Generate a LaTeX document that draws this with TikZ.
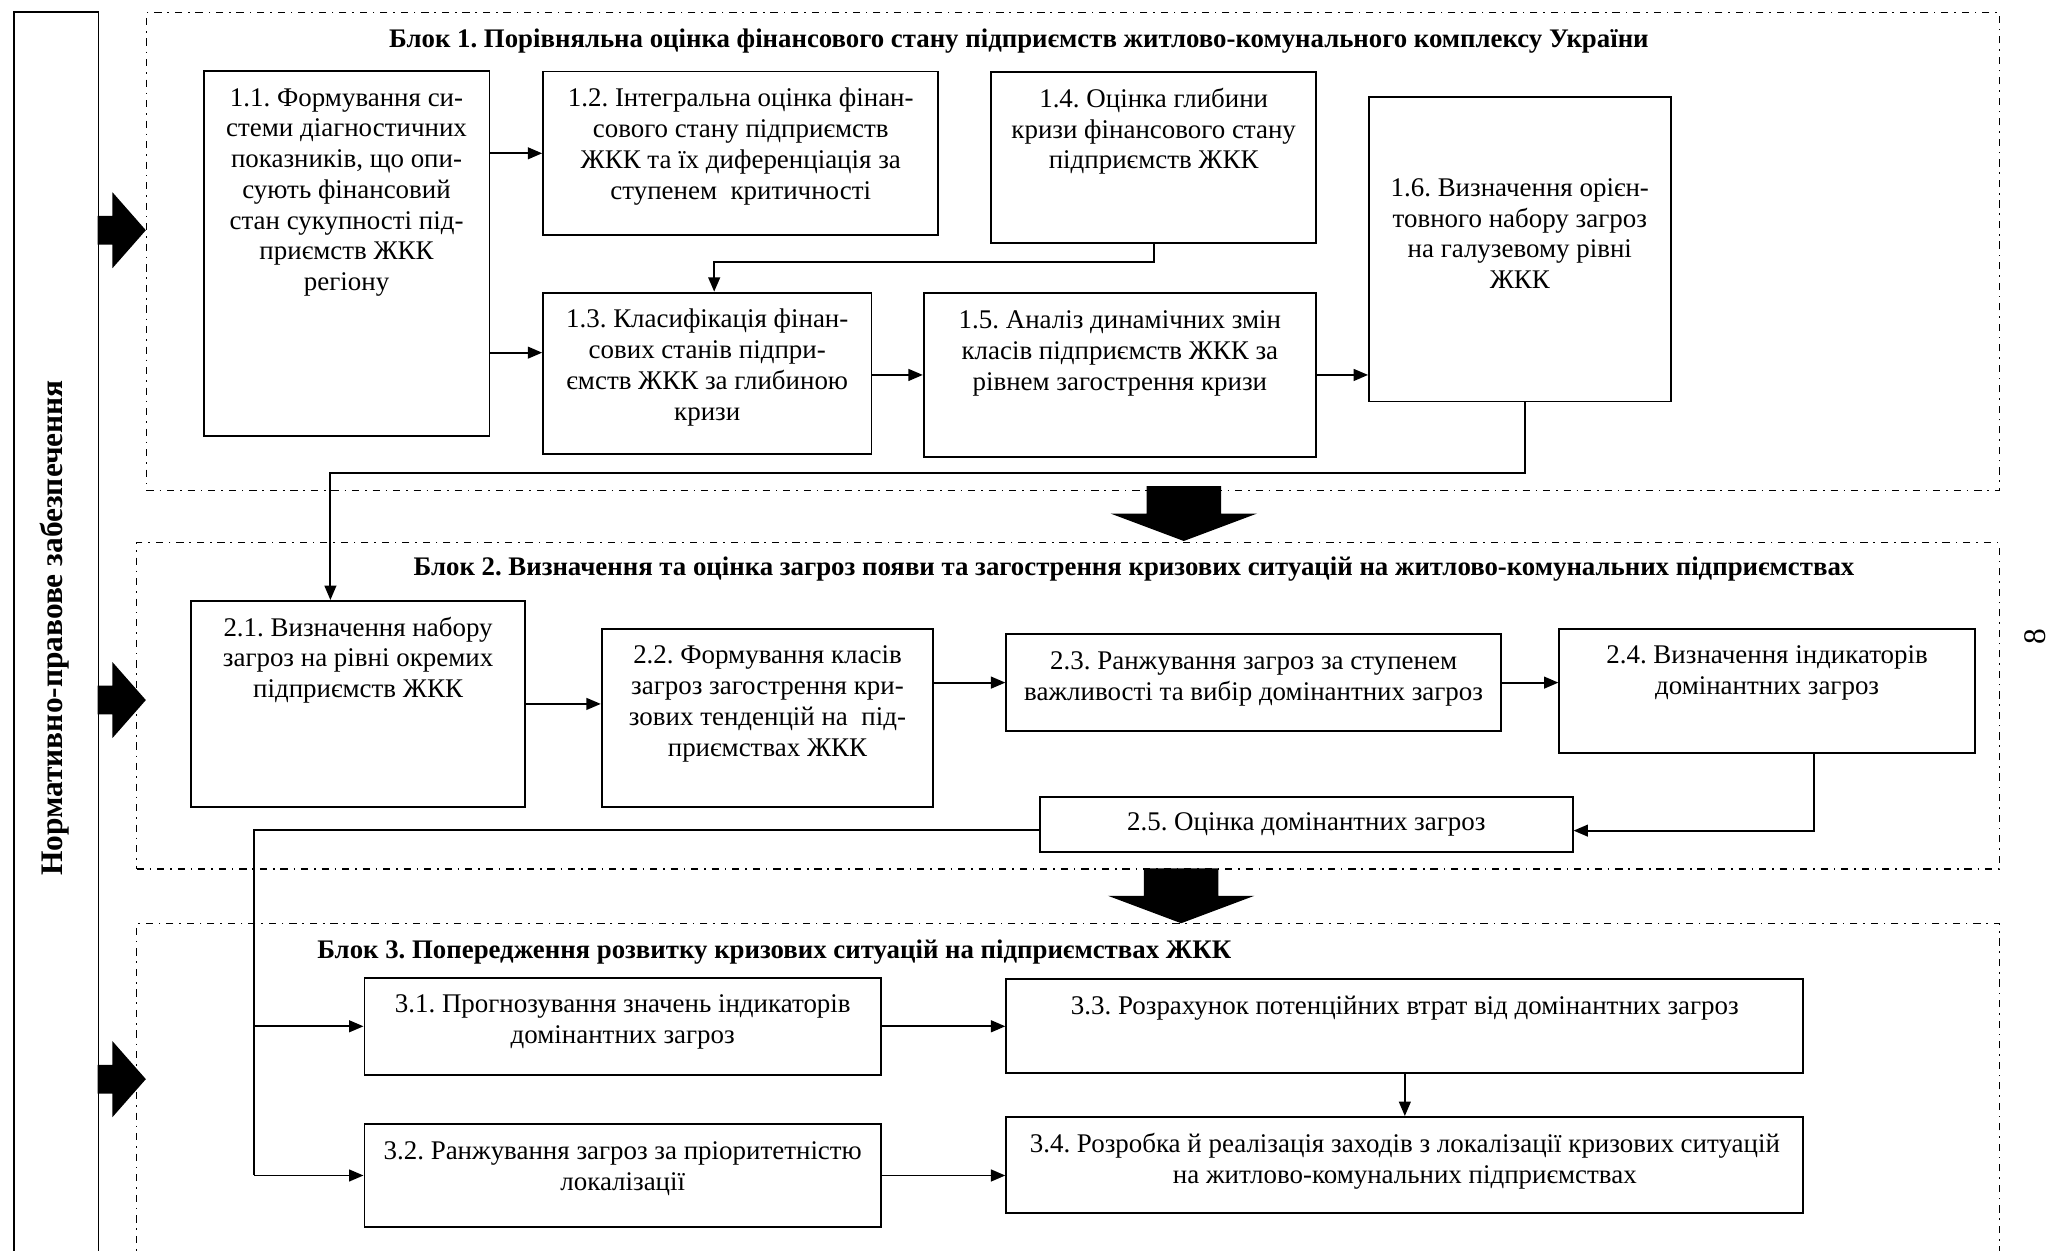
\documentclass[tikz,border=0pt]{standalone}
\usepackage{fontspec}
\setmainfont{Liberation Serif}
\usetikzlibrary{arrows.meta}
\tikzset{
  bx/.style={draw, line width=1.4pt, inner sep=0pt, anchor=north west, font=\fontsize{20.6}{23.5}\selectfont},
  blockframe/.style={draw, line width=1pt, dash pattern=on 5.5pt off 4.5pt on 1.2pt off 4.5pt, inner sep=0pt, anchor=north west},
  ttl/.style={font=\fontsize{20.5}{24}\selectfont\bfseries, anchor=base, inner sep=0pt},
  arr/.style={line width=1.4pt, -{Triangle[length=11pt,width=9pt]}},
  ln/.style={line width=1.4pt},
  big/.style={fill=black},
}
\newcommand\tb[4][27pt]{\parbox[c][#3][t]{#2}{\centering\rule{0pt}{#1}#4\par}}
\newcommand\tbc[3]{\parbox[c][#2][c]{#1}{\centering #3\par}}
\begin{document}
\frenchspacing
\begin{tikzpicture}[x=1pt,y=-1pt]
\useasboundingbox (0,0) rectangle (1568,956);
% left bar
\node[draw, line width=1.4pt, inner sep=0pt, anchor=north west, minimum width=64.8pt, minimum height=1000pt] (lbar) at (9.8,8.4) {};
\node[rotate=90, inner sep=0pt, font=\fontsize{24}{26}\selectfont\bfseries] (nlabel) at (41.5,480) {Нормативно-правове забезпечення};
% block frames
\node[blockframe, minimum width=1416.4pt, minimum height=365.7pt] (blk1) at (111.6,8.9) {};
\node[blockframe, minimum width=1424pt, minimum height=249.3pt] (blk2) at (104,414.5) {};
\node[blockframe, minimum width=1424pt, minimum height=320pt] (blk3) at (104,705.4) {};
% titles
\node[ttl] (t1) at (779,36.2) {Блок 1. Порівняльна оцінка фінансового стану підприємств житлово-комунального комплексу України};
\node[ttl] (t2) at (867,439.6) {Блок 2. Визначення та оцінка загроз появи та загострення кризових ситуацій на житлово-комунальних підприємствах};
\node[ttl] (t3) at (592,732.7) {Блок 3. Попередження розвитку кризових ситуацій на підприємствах ЖКК};
% block 1 boxes
\node[bx] (b11) at (155,53.5) {\tb{218.5pt}{279.1pt}{1.1. Формування си-\\стеми діагностичних\\показників, що опи-\\сують фінансовий\\стан сукупності під-\\приємств ЖКК\\регіону}};
\node[bx] (b12) at (414.5,54) {\tb{302.2pt}{125pt}{1.2. Інтегральна оцінка фінан-\\сового стану підприємств\\ЖКК та їх диференціація за\\ступенем~ критичності}};
\node[bx] (b13) at (414.5,223) {\tb{251pt}{123.6pt}{1.3. Класифікація фінан-\\сових станів підпри-\\ємств ЖКК за глибиною\\кризи}};
\node[bx] (b14) at (757.2,54.3) {\tb{248.2pt}{131pt}{1.4. Оцінка глибини\\кризи фінансового стану\\підприємств ЖКК}};
\node[bx] (b15) at (705.5,223.5) {\tb{299.9pt}{124.9pt}{1.5. Аналіз динамічних змін\\класів підприємств ЖКК за\\рівнем загострення кризи}};
\node[bx] (b16) at (1045.9,73.4) {\tb[76pt]{230.6pt}{232.9pt}{1.6. Визначення орієн-\\товного набору загроз\\на галузевому рівні\\ЖКК}};
% block 2 boxes
\node[bx] (b21) at (145.3,458.7) {\tb{255.5pt}{157.5pt}{2.1. Визначення набору\\загроз на рівні окремих\\підприємств ЖКК}};
\node[bx] (b22) at (459.3,479.9) {\tb{253.5pt}{136.3pt}{2.2. Формування класів\\загроз загострення кри-\\зових тенденцій на~ під-\\приємствах ЖКК}};
\node[bx] (b23) at (768.6,484.2) {\tb{378.2pt}{73.9pt}{2.3. Ранжування загроз за ступенем\\важливості та вибір домінантних загроз}};
\node[bx] (b24) at (1191.4,479.9) {\tb{317.7pt}{94.8pt}{2.4. Визначення індикаторів\\домінантних загроз}};
\node[bx] (b25) at (794.3,608.6) {\tbc{407.3pt}{42pt}{2.5. Оцінка домінантних загроз}};
% block 3 boxes
\node[bx] (b31) at (277.9,746.7) {\tb{395pt}{74.4pt}{3.1. Прогнозування значень індикаторів\\домінантних загроз}};
\node[bx] (b32) at (277.9,858.8) {\tb{395pt}{78.3pt}{3.2. Ранжування загроз за пріоритетністю\\локалізації}};
\node[bx] (b33) at (768.6,748) {\tb{609.4pt}{71.3pt}{3.3. Розрахунок потенційних втрат від домінантних загроз}};
\node[bx] (b34) at (768.6,853.2) {\tb{609.4pt}{73.7pt}{3.4. Розробка й реалізація заходів з локалізації кризових ситуацій\\на житлово-комунальних підприємствах}};
% page number
\node[rotate=90, inner sep=0pt, font=\fontsize{24}{26}\selectfont] (pg) at (1556,487) {8};
% big arrows
\foreach \c in {176,535.2,825}{
  \fill[big] (74.6,\c-11) -- (86,\c-11) -- (86,\c-29) -- (111.5,\c) -- (86,\c+29) -- (86,\c+11) -- (74.6,\c+11) -- cycle;
}
\foreach \c/\t in {905/371.6, 903/663.8}{
  \fill[big] (\c-28.5,\t) -- (\c+28.5,\t) -- (\c+28.5,\t+21) -- (\c+56,\t+21) -- (\c,\t+42) -- (\c-56,\t+21) -- (\c-28.5,\t+21) -- cycle;
}
% connectors block 1
\draw[arr] (b11.east |- b12.west) -- (b12.west);
\draw[arr] (b11.east |- 0,269.6) -- (b13.west |- 0,269.6);
\draw[arr] (b13.east |- b15.west) -- (b15.west);
\draw[arr] (b15.east) -- (b16.west |- b15.east);
\draw[arr] (b14.south) |- (546,200.5) -- (b13.north -| 546,0);
\draw[arr] (b16.south -| 1165.7,0) |- (252.6,361.4) -- (b21.north -| 252.6,0);
% connectors block 2
\draw[arr] (b21.east) -- (b22.west |- b21.east);
\draw[arr] (b22.east |- b23.west) -- (b23.west);
\draw[arr] (b23.east) -- (b24.west |- b23.east);
\draw[arr] (b24.south -| 1387.1,0) |- (b25.east |- 0,635);
\coordinate (jn) at (194,634.6);
\draw[ln] (b25.west |- jn) -- (jn) -- (jn |- b32.west);
% connectors block 3
\draw[arr] (jn |- b31.west) -- (b31.west);
\draw[arr] (jn |- b32.west) -- (b32.west);
\draw[arr] (b31.east) -- (b33.west |- b31.east);
\draw[arr] (b32.east) -- (b34.west |- b32.east);
\draw[arr] (b33.south) -- (b34.north);
\end{tikzpicture}
\end{document}
